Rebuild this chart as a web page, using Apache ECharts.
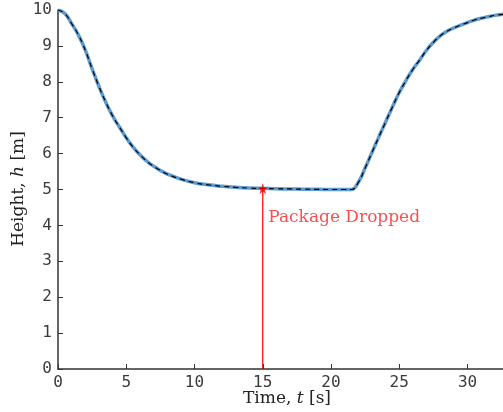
<!DOCTYPE html>
<html>
<head>
<meta charset="utf-8">
<script src="https://cdn.jsdelivr.net/npm/echarts@6/dist/echarts.min.js"></script>
<style>
  html, body { margin: 0; padding: 0; background: #fff; }
  #chart { width: 503px; height: 412px; }
</style>
</head>
<body>
<div id="chart"></div>
<script>
// Height trajectory of the vehicle, h(t), sampled every 0.5 s
const timeS = [0, 0.5, 1, 1.5, 2, 2.5, 3, 3.5, 4, 4.5, 5, 5.5, 6, 6.5, 7, 7.5, 8, 9, 10, 11, 12, 13, 14, 15, 16, 17, 18, 19, 20, 21, 21.5, 22, 22.5, 23, 23.5, 24, 24.5, 25, 25.5, 26, 26.5, 27, 27.5, 28, 28.5, 29, 29.5, 30, 30.5, 31, 31.5, 32, 32.6];
const heightM = [10, 9.9, 9.62, 9.3, 8.88, 8.36, 7.87, 7.43, 7.05, 6.74, 6.44, 6.18, 5.97, 5.79, 5.65, 5.53, 5.43, 5.29, 5.19, 5.13, 5.09, 5.06, 5.04, 5.03, 5.02, 5.015, 5.01, 5.005, 5.0, 5.0, 5.0, 5.2, 5.6, 6.03, 6.46, 6.88, 7.3, 7.7, 8.04, 8.35, 8.61, 8.88, 9.1, 9.28, 9.41, 9.5, 9.58, 9.65, 9.72, 9.77, 9.81, 9.85, 9.88];

// Drop event
const dropTime = 15;
const dropHeight = 5.03;
const dropLabel = 'Package Dropped';

// Axis ticks
const xTicks = [0, 5, 10, 15, 20, 25, 30];
const yTicks = [0, 1, 2, 3, 4, 5, 6, 7, 8, 9, 10];
const xMax = 32.6;

const curve = timeS.map((t, i) => [t, heightM[i]]);

const tickFont = { fontFamily: 'DejaVu Sans Mono', fontSize: 16, color: '#3a3a3a' };
const axisLine = { show: true, lineStyle: { color: '#333', width: 1.5 } };
const titleRich = {
  n: { fontFamily: 'DejaVu Serif', fontSize: 17, fill: '#222' },
  i: { fontFamily: 'DejaVu Serif', fontStyle: 'italic', fontSize: 17, fill: '#222' }
};

const chart = echarts.init(document.getElementById('chart'), null, { renderer: 'canvas' });
chart.setOption({
  animation: false,
  backgroundColor: '#fff',
  grid: { left: 58, right: 0, top: 10, bottom: 43, containLabel: false },
  xAxis: {
    type: 'value', min: 0, max: xMax, interval: 5,
    axisLine: axisLine,
    axisTick: { show: true, inside: true, length: 5, customValues: xTicks, lineStyle: { color: '#333' } },
    axisLabel: Object.assign({ margin: 6, customValues: xTicks }, tickFont),
    splitLine: { show: false }
  },
  yAxis: {
    type: 'value', min: 0, max: 10, interval: 1,
    axisLine: axisLine,
    axisTick: { show: true, inside: true, length: 5, customValues: yTicks, lineStyle: { color: '#333' } },
    axisLabel: Object.assign({ margin: 6, customValues: yTicks }, tickFont),
    splitLine: { show: false }
  },
  graphic: [
    {
      type: 'text', x: 287, y: 399,
      style: { text: '{n|Time, }{i|t}{n| [s]}', align: 'center', verticalAlign: 'middle', rich: titleRich }
    },
    {
      type: 'text', x: 19, y: 189, rotation: Math.PI / 2,
      style: { text: '{n|Height, }{i|h}{n| [m]}', align: 'center', verticalAlign: 'middle', rich: titleRich }
    }
  ],
  series: [
    {
      type: 'line', data: curve, showSymbol: false, smooth: 0.5,
      lineStyle: { color: '#5b9bd1', width: 3.5 }, z: 2
    },
    {
      type: 'line', data: curve, showSymbol: false, smooth: 0.5,
      lineStyle: { color: '#000', width: 1.2, type: [5, 4] }, z: 3
    },
    {
      type: 'line', data: [[dropTime, 0], [dropTime, dropHeight]], showSymbol: false,
      lineStyle: { color: '#ff0000', width: 1.2 }, z: 4
    },
    {
      type: 'scatter', data: [[dropTime, dropHeight]],
      symbol: 'path://M50,0 L61,35 L98,35 L68,57 L79,91 L50,70 L21,91 L32,57 L2,35 L39,35 Z',
      symbolSize: 11, itemStyle: { color: '#ff0000' }, z: 5,
      label: {
        show: true, position: 'right', distance: 0, offset: [0, 29],
        formatter: dropLabel,
        fontFamily: 'DejaVu Serif', fontSize: 17, color: '#ff2020'
      }
    }
  ]
});
</script>
</body>
</html>
